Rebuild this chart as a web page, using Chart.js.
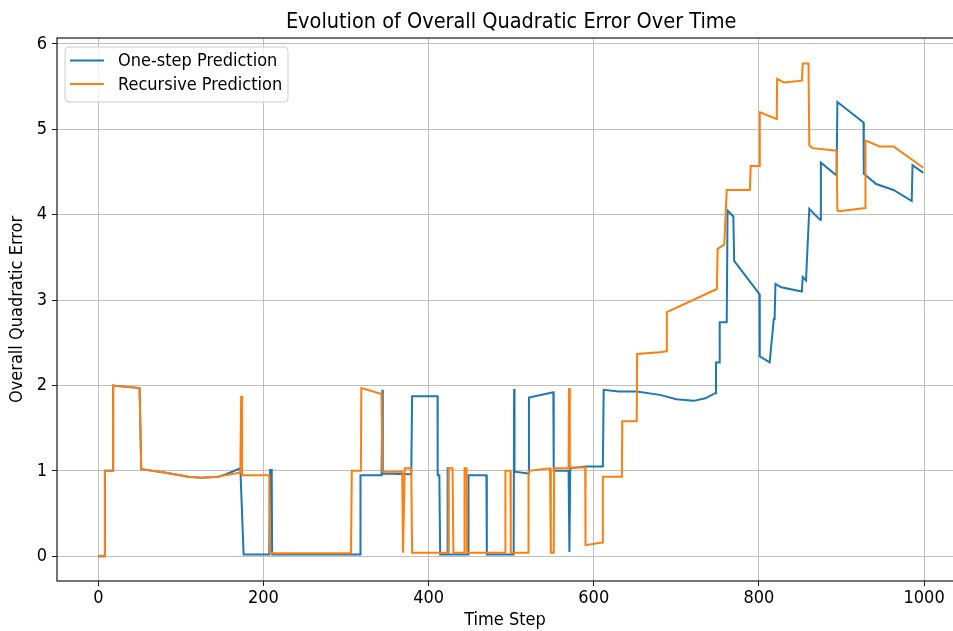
<!DOCTYPE html>
<html lang="en">
<head>
    <meta charset="UTF-8">
    <title>Evolution of Overall Quadratic Error Over Time</title>
    <script src="https://cdn.jsdelivr.net/npm/chart.js@4.4.0/dist/chart.umd.min.js"></script>
    <style>
        html, body {
            margin: 0;
            padding: 0;
            background: #fff;
            overflow: hidden;
        }
        .chart-box {
            position: relative;
            width: 953px;
            height: 631px;
        }
    </style>
</head>
<body>
    <div class="chart-box">
        <canvas id="errorChart"></canvas>
    </div>

    <script>
        // Data
        const chartTitle = 'Evolution of Overall Quadratic Error Over Time';
        const xTicks = [0, 200, 400, 600, 800, 1000];
        const yTicks = [0, 1, 2, 3, 4, 5, 6];
        const seriesNames = ['One-step Prediction', 'Recursive Prediction'];

        const oneStepX = [0, 8, 8, 18, 18, 50, 52, 80, 109, 125, 145, 155, 172, 176, 207, 208, 210, 210.5,
            317, 317.5, 343, 344, 344.5, 379, 380, 410.8, 411, 413, 414, 422.5, 423, 423.5, 424,
            448, 448.3, 470, 470.5, 503, 503.5, 504, 521, 521.5, 551, 551.5, 569.5, 570.5, 571.5,
            590, 611, 612, 630, 652, 680, 700, 721, 735, 747, 748, 752, 752.5, 761, 762, 769, 770,
            800.6, 801, 813, 818, 819, 820, 827, 852, 853, 857, 861, 874, 875, 894, 895, 926.6, 927,
            942, 963, 985, 986, 999];
        const oneStepY = [0, 0, 1.0, 1.0, 2.0, 1.97, 1.02, 0.98, 0.93, 0.92, 0.93, 0.96, 1.03, 0.02, 0.02, 1.01, 1.01, 0.02,
            0.02, 0.95, 0.95, 1.95, 0.97, 0.96, 1.875, 1.875, 0.95, 0.95, 0.02, 0.02, 1.03, 1.03, 0.02,
            0.02, 0.95, 0.95, 0.02, 0.02, 1.96, 0.99, 0.97, 1.86, 1.92, 1.0, 1.0, 0.05, 1.03,
            1.05, 1.05, 1.95, 1.93, 1.93, 1.89, 1.84, 1.82, 1.85, 1.91, 2.27, 2.27, 2.74, 2.74, 4.05, 3.98, 3.46,
            3.07, 2.34, 2.27, 2.78, 2.78, 3.19, 3.15, 3.10, 3.27, 3.23, 4.07, 3.94, 4.61, 4.46, 5.32, 5.08, 4.48,
            4.36, 4.29, 4.16, 4.58, 4.49];

        const recursiveX = [0, 8, 8, 18, 18, 50, 52, 80, 109, 125, 145, 155, 172, 173, 174, 207, 208,
            306, 307, 318, 318.5, 343, 344, 368, 369, 371, 379, 380, 423.5, 424, 429, 430,
            443, 443.5, 446, 446.5, 492.5, 493, 499, 499.5, 520.5, 521, 547, 548, 551.5, 552,
            569.5, 570, 571, 589.6, 590, 610, 611, 634, 634.5, 652, 652.5, 680, 688, 688.5,
            749, 750, 758, 761, 789, 790, 800.6, 801, 821.6, 822, 830, 852, 853, 860, 861, 865,
            894, 895, 897, 928.6, 929, 946, 963, 999];
        const recursiveY = [0, 0, 1.0, 1.0, 2.0, 1.97, 1.02, 0.98, 0.93, 0.92, 0.93, 0.95, 0.98, 1.88, 0.95, 0.95, 0.035,
            0.035, 1.0, 1.0, 1.97, 1.90, 0.99, 0.99, 0.04, 1.03, 1.03, 0.04, 0.04, 1.03, 1.03, 0.04,
            0.04, 1.03, 1.03, 0.04, 0.04, 1.0, 1.0, 0.04, 0.04, 1.0, 1.03, 0.04, 0.04, 1.03,
            1.03, 1.97, 1.04, 1.04, 0.13, 0.16, 0.93, 0.93, 1.58, 1.58, 2.37, 2.39, 2.40, 2.86,
            3.13, 3.60, 3.65, 4.29, 4.29, 4.57, 4.57, 5.20, 5.12, 5.59, 5.55, 5.57, 5.77, 5.77, 4.81, 4.78,
            4.75, 4.05, 4.04, 4.08, 4.87, 4.80, 4.80, 4.55];

        const blue = '#1f77b4';
        const orange = '#ff7f0e';
        const font = '"DejaVu Sans Condensed", "DejaVu Sans", sans-serif';

        function toPoints(xs, ys) {
            return xs.map((x, i) => ({ x: x, y: ys[i] }));
        }

        // Title, axes frame and the legend box drawn by hand (matplotlib look)
        const decorPlugin = {
            id: 'decor',
            afterDraw(chart) {
                const ctx = chart.ctx;
                const area = chart.chartArea;
                const xs = chart.scales.x;
                const frameRight = xs.getPixelForValue(1050);

                ctx.save();
                // spines
                ctx.strokeStyle = '#1a1a1a';
                ctx.lineWidth = 1.2;
                ctx.strokeRect(area.left, area.top, frameRight - area.left, area.bottom - area.top);

                // title
                ctx.fillStyle = '#000';
                ctx.font = '21.5px ' + font;
                ctx.textAlign = 'center';
                ctx.textBaseline = 'middle';
                ctx.fillText(chartTitle, (area.left + frameRight) / 2, 22);

                // legend
                const lx = 65, ly = 47, lw = 223, lh = 55;
                ctx.beginPath();
                ctx.roundRect(lx, ly, lw, lh, 4);
                ctx.fillStyle = 'rgba(255,255,255,0.8)';
                ctx.fill();
                ctx.strokeStyle = '#cccccc';
                ctx.lineWidth = 1;
                ctx.stroke();

                ctx.font = '18px ' + font;
                ctx.textAlign = 'left';
                chart.data.datasets.forEach((ds, i) => {
                    const y = 60.5 + i * 23.5;
                    ctx.beginPath();
                    ctx.moveTo(70, y);
                    ctx.lineTo(104, y);
                    ctx.strokeStyle = ds.borderColor;
                    ctx.lineWidth = 2;
                    ctx.stroke();
                    ctx.fillStyle = '#000';
                    ctx.fillText(ds.label, 118, y + 1);
                });
                ctx.restore();
            }
        };

        const ctx = document.getElementById('errorChart').getContext('2d');
        const chart = new Chart(ctx, {
            type: 'line',
            data: {
                datasets: [{
                    label: seriesNames[0],
                    data: toPoints(oneStepX, oneStepY),
                    borderColor: blue,
                    borderWidth: 2,
                    order: 1
                }, {
                    label: seriesNames[1],
                    data: toPoints(recursiveX, recursiveY),
                    borderColor: orange,
                    borderWidth: 2,
                    order: 0
                }]
            },
            options: {
                responsive: true,
                maintainAspectRatio: false,
                animation: false,
                layout: { padding: { top: 38, left: 0, right: 0, bottom: 0 } },
                elements: {
                    point: { radius: 0 },
                    line: { tension: 0, borderJoinStyle: 'miter' }
                },
                plugins: {
                    legend: { display: false },
                    tooltip: { enabled: false }
                },
                scales: {
                    x: {
                        type: 'linear',
                        min: -50,
                        max: 1035,
                        afterBuildTicks(scale) {
                            scale.ticks = xTicks.map(v => ({ value: v }));
                        },
                        afterFit(scale) { scale.height = 50; },
                        grid: { color: '#b0b0b0', lineWidth: 0.8, tickLength: 5, tickColor: '#1a1a1a', tickWidth: 1 },
                        border: { display: false },
                        ticks: {
                            color: '#000', font: { family: font, size: 18 }, padding: 2, maxRotation: 0,
                            callback: v => String(v)
                        },
                        title: { display: true, text: 'Time Step', color: '#000', font: { family: font, size: 18 }, padding: { top: 0, bottom: 0 } }
                    },
                    y: {
                        min: -0.29,
                        max: 6.07,
                        afterBuildTicks(scale) {
                            scale.ticks = yTicks.map(v => ({ value: v }));
                        },
                        afterFit(scale) { scale.width = 57; },
                        grid: { color: '#b0b0b0', lineWidth: 0.8, tickLength: 5, tickColor: '#1a1a1a', tickWidth: 1 },
                        border: { display: false },
                        ticks: { color: '#000', font: { family: font, size: 18 }, padding: 5, callback: v => String(v) },
                        title: { display: true, text: 'Overall Quadratic Error', color: '#000', font: { family: font, size: 18 }, padding: { top: 7, bottom: 0 } }
                    }
                }
            },
            plugins: [decorPlugin]
        });
    </script>
</body>
</html>
